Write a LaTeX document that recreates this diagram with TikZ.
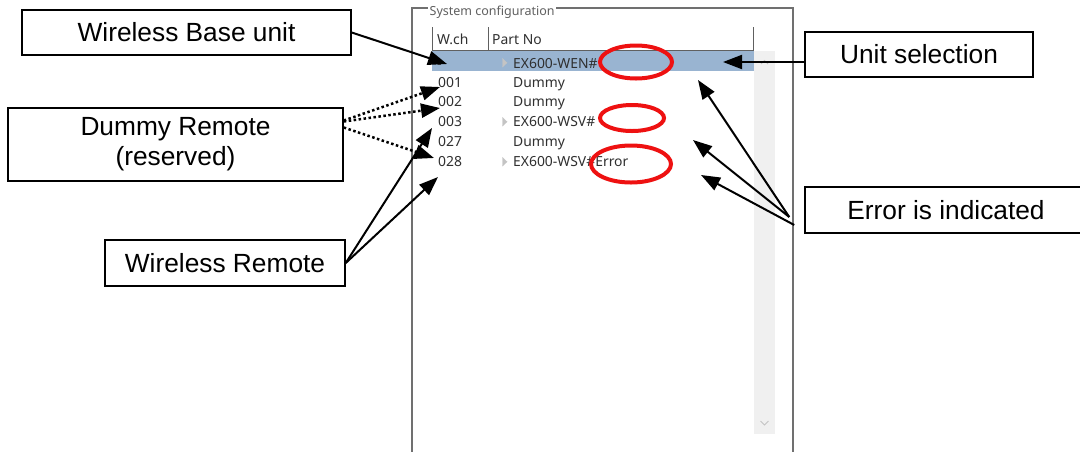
\documentclass[tikz,border=0pt]{standalone}
\usepackage{fontspec}
\setmainfont{Liberation Sans}
\newfontfamily\uifont{Noto Sans}
\usetikzlibrary{arrows.meta,calc}
\definecolor{selblue}{HTML}{99B4D1}
\definecolor{scrollgray}{HTML}{F0F0F0}
\definecolor{ringred}{HTML}{EE1111}
\definecolor{uitext}{HTML}{303030}
\definecolor{framecol}{HTML}{707070}
\definecolor{hdrcol}{HTML}{606060}
\definecolor{markgray}{HTML}{C4C4C4}
\begin{document}
\begin{tikzpicture}[x=1pt,y=-1pt,
  lab/.style={draw=black,line width=1.5pt,font=\fontsize{26.3}{30}\selectfont,align=center,inner sep=0pt},
  ui/.style={font=\uifont\fontsize{13.9}{15}\selectfont,text=uitext,inner sep=0pt,anchor=base west},
  arr/.style={line width=2pt,-{Triangle[length=19pt,width=14pt]}},
  dotarr/.style={line width=2.5pt,dash pattern=on 2.5pt off 2.5pt,-{Triangle[length=19pt,width=14pt]}},
  redring/.style={draw=ringred,line width=4pt},
  hdr/.style={draw=hdrcol,line width=1pt},
  rowmark/.style={fill=markgray,draw=markgray,line width=0.4pt},
]
\useasboundingbox (0,0) rectangle (1080,451);
\fill[white] (0,0) rectangle (1080,451);

% group box frame
\draw[framecol,line width=1.2pt] (412,470) -- (412,8) -- (793,8) -- (793,470);
\node[ui,font=\uifont\fontsize{12.5}{14}\selectfont,text=hdrcol,fill=white,inner xsep=1.5pt,inner ysep=1pt,anchor=west] (title) at (428,12) {System configuration};

% selection band and scrollbar
\fill[selblue] (432,51) rectangle (754,71);
\fill[scrollgray] (754,51) rectangle (775,434);
\draw[markgray,line width=1pt] (761,64) -- (764.5,60.5) -- (768,64);
\draw[markgray,line width=1pt] (760.5,421) -- (764.5,425) -- (768.5,421);

% header
\draw[hdr] (432,27) -- (432,50) -- (753,50) -- (753,27);
\draw[hdr] (488,27) -- (488,50);
\node[ui] (hch) at (437,44) {W.ch};
\node[ui] (hpn) at (492,44) {Part No};

% rows
\node[ui] (c0) at (437,68) {-};
\node[ui] (p0) at (513,68) {EX600-WEN\#};
\node[ui] (c1) at (438,87) {001};
\node[ui] (p1) at (513,87) {Dummy};
\node[ui] (c2) at (438,106.7) {002};
\node[ui] (p2) at (513,106.7) {Dummy};
\node[ui] (c3) at (438,126.7) {003};
\node[ui] (p3) at (513,126.7) {EX600-WSV\#};
\node[ui] (c4) at (438,146.7) {027};
\node[ui] (p4) at (513,146.7) {Dummy};
\node[ui] (c5) at (438,166.7) {028};
\node[ui] (p5) at (513,166.7) {EX600-WSV\#Error};

\filldraw[rowmark] (502.5,58.5) -- (502.5,67) -- (507,62.75) -- cycle;
\filldraw[rowmark] (502.5,117.5) -- (502.5,126) -- (507,121.75) -- cycle;
\filldraw[rowmark] (502.5,157.5) -- (502.5,166) -- (507,161.75) -- cycle;

% red rings
\draw[redring] (636,62) ellipse [x radius=36pt, y radius=16.5pt];
\draw[redring] (632,118) ellipse [x radius=32pt, y radius=13pt];
\draw[redring] (631,164) ellipse [x radius=40pt, y radius=18.5pt];

% label boxes
\node[lab,minimum width=329pt,minimum height=45pt] (base) at (186.5,32.5) {Wireless Base unit};
\node[lab,minimum width=335pt,minimum height=73pt] (dm) at (175.5,144.5) {Dummy Remote\\(reserved)};
\node[lab,minimum width=240pt,minimum height=46pt] (wr) at (225,263) {Wireless Remote};
\node[lab,minimum width=228pt,minimum height=45pt] (us) at (919,54.5) {Unit selection};
\node[lab,minimum width=282pt,minimum height=46pt] (err) at (946,210) {Error is indicated};

% arrow targets
\coordinate (tBase) at (447,64);
\coordinate (t001) at (440,87);
\coordinate (t002) at (440,108);
\coordinate (t027) at (434,158);
\coordinate (t003) at (432,128);
\coordinate (t028) at (438,177);
\coordinate (tSel) at (723,62);
\coordinate (tE1) at (698,80);
\coordinate (tE2) at (693,140);
\coordinate (tE3) at (701,175);
\coordinate (eo1) at ([xshift=-15pt,yshift=-7pt]err.west);
\coordinate (eo2) at ([xshift=-10pt,yshift=-15pt]err.west);

% connectors
\draw[arr] (base.east) -- (tBase);
\draw[dotarr] ([yshift=24pt]dm.east) -- (t001);
\draw[dotarr] ([yshift=23pt]dm.east) -- (t002);
\draw[dotarr] ([yshift=17pt]dm.east) -- (t027);
\draw[arr] (wr.east) -- (t003);
\draw[arr] (wr.east) -- (t028);
\draw[arr] ([yshift=-7.5pt]us.west) -- (tSel);
\draw[arr] (eo1) -- (tE1);
\draw[arr] (eo1) -- (tE2);
\draw[arr] (eo2) -- (tE3);
\end{tikzpicture}
\end{document}
